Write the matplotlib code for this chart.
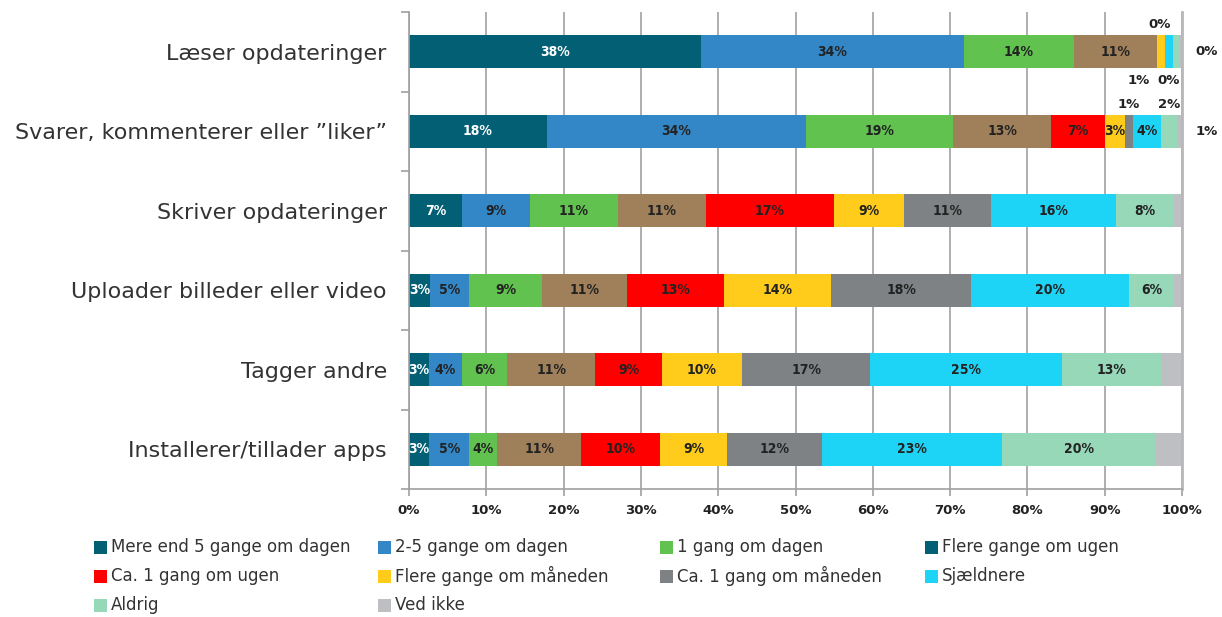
import matplotlib
matplotlib.use("Agg")
import matplotlib.pyplot as plt
from matplotlib.patches import Rectangle
import numpy as np

# ---------------- data ----------------
categories = ["Læser opdateringer",
              "Svarer, kommenterer eller ”liker”",
              "Skriver opdateringer",
              "Uploader billeder eller video",
              "Tagger andre",
              "Installerer/tillader apps"]

series_names = ["Mere end 5 gange om dagen", "2-5 gange om dagen", "1 gang om dagen",
                "Flere gange om ugen", "Ca. 1 gang om ugen", "Flere gange om måneden",
                "Ca. 1 gang om måneden", "Sjældnere", "Aldrig", "Ved ikke"]

mere_end_5 = [37.8, 17.8, 6.8, 2.7, 2.6, 2.6]
to_fem = [34.0, 33.6, 8.8, 5.1, 4.2, 5.2]
en_gang_dag = [14.2, 19.0, 11.4, 9.4, 5.9, 3.6]
flere_uge = [10.8, 12.7, 11.4, 11.0, 11.4, 10.9]
ca_uge = [0.0, 6.9, 16.6, 12.6, 8.6, 10.2]
flere_maaned = [1.0, 2.6, 9.1, 13.8, 10.4, 8.6]
ca_maaned = [0.0, 1.0, 11.2, 18.1, 16.6, 12.3]
sjaeldnere = [1.0, 3.7, 16.1, 20.4, 24.8, 23.3]
aldrig = [0.8, 2.0, 7.6, 5.9, 12.8, 20.0]
ved_ikke = [0.4, 0.7, 1.0, 1.0, 2.7, 3.3]

series_values = [mere_end_5, to_fem, en_gang_dag, flere_uge, ca_uge,
                 flere_maaned, ca_maaned, sjaeldnere, aldrig, ved_ikke]

bar_colors = ["#035F74", "#3487C6", "#62C24F", "#A0805A", "#FF0000",
              "#FFCC1C", "#7E8285", "#1ED4F6", "#96D8B8", "#BEBFC3"]
# legend swatch colours as printed in the reference (4th swatch is teal there)
legend_colors = ["#035F74", "#3487C6", "#62C24F", "#035F74", "#FF0000",
                 "#FFCC1C", "#7E8285", "#1ED4F6", "#96D8B8", "#BEBFC3"]
label_colors = ["white"] + ["#222222"] * 9

x_ticks = [0, 10, 20, 30, 40, 50, 60, 70, 80, 90, 100]

# small segments labelled outside the bar: (row, series, where, x-offset px)
outside_labels = [(0, 4, "above", 2), (0, 5, "below", -22), (0, 6, "below", 4),
                  (0, 9, "right", 0), (1, 6, "above", 0), (1, 8, "above", 0),
                  (1, 9, "right", 0)]

# ---------------- figure ----------------
W, H = 1222, 617
fig = plt.figure(figsize=(W / 100, H / 100), dpi=100)
ax = fig.add_axes([409 / W, 1 - 489 / H, (1182 - 409) / W, (489 - 12) / H])

y = np.arange(len(categories))
bar_h = 0.41
left = np.zeros(len(categories))
for i, vals in enumerate(series_values):
    vals = np.array(vals)
    ax.barh(y, vals, left=left, height=bar_h, color=bar_colors[i],
            edgecolor="none", zorder=2)
    if i < 9:
        for r in range(len(categories)):
            if vals[r] >= 2.5:
                ax.text(left[r] + vals[r] / 2, y[r], f"{vals[r]:.0f}%",
                        ha="center", va="center", fontsize=10,
                        color=label_colors[i], fontweight="bold",
                        fontstretch="condensed", zorder=3)
    left = left + vals

# outside labels
cum = np.cumsum(np.array(series_values), axis=0)
for r, s, where, dx in outside_labels:
    v = series_values[s][r]
    start = cum[s][r] - v
    xc = start + v / 2
    txt = f"{v:.0f}%"
    if where == "above":
        ax.annotate(txt, (xc, y[r] - bar_h / 2), xytext=(dx * 0.72, 3),
                    textcoords="offset points", ha="center", va="bottom",
                    fontsize=9.5, fontweight="bold", color="#222222")
    elif where == "below":
        ax.annotate(txt, (xc, y[r] + bar_h / 2), xytext=(dx * 0.72, -4),
                    textcoords="offset points", ha="center", va="top",
                    fontsize=9.5, fontweight="bold", color="#222222")
    else:
        ax.annotate(txt, (100, y[r]), xytext=(25 * 0.72, 0),
                    textcoords="offset points", ha="center", va="center",
                    fontsize=9.5, fontweight="bold", color="#222222")

ax.set_xlim(0, 100)
ax.set_ylim(len(categories) - 0.5, -0.5)

ax.set_xticks(x_ticks)
ax.set_xticklabels([f"{t}%" for t in x_ticks], fontsize=9.5, fontweight="bold",
                   color="#222222")
ax.tick_params(axis="x", length=5, color="#A0A0A0", width=1.2, pad=6)

ax.set_yticks(y)
ax.set_yticklabels(categories, fontsize=16, color="#333333")
ax.tick_params(axis="y", length=0, pad=16)
ax.set_yticks(np.arange(-0.5, len(categories)), minor=True)
ax.tick_params(axis="y", which="minor", length=6, color="#A0A0A0", width=1.2)

ax.grid(axis="x", color="#A8A8A8", linewidth=1.3, zorder=0)
ax.set_axisbelow(True)
ax.spines["top"].set_visible(False)
ax.spines["right"].set_color("#B8B8B8")
ax.spines["right"].set_linewidth(2)
ax.spines["left"].set_color("#A0A0A0")
ax.spines["left"].set_linewidth(1.2)
ax.spines["bottom"].set_color("#A0A0A0")
ax.spines["bottom"].set_linewidth(1.2)

# ---------------- legend (4 columns, row-major) ----------------
col_x = [94, 378, 660, 925]
row_y = [547, 576, 605]
sw = 13
for k, name in enumerate(series_names):
    r, c = divmod(k, 4)
    px, py = col_x[c], row_y[r]
    fig.patches.append(Rectangle((px / W, 1 - (py + sw / 2) / H), sw / W, sw / H,
                                 transform=fig.transFigure,
                                 facecolor=legend_colors[k], edgecolor="none"))
    fig.text((px + sw + 4) / W, 1 - py / H, name, ha="left", va="center",
             fontsize=12, color="#333333")

fig.savefig("out.png", dpi=100)
